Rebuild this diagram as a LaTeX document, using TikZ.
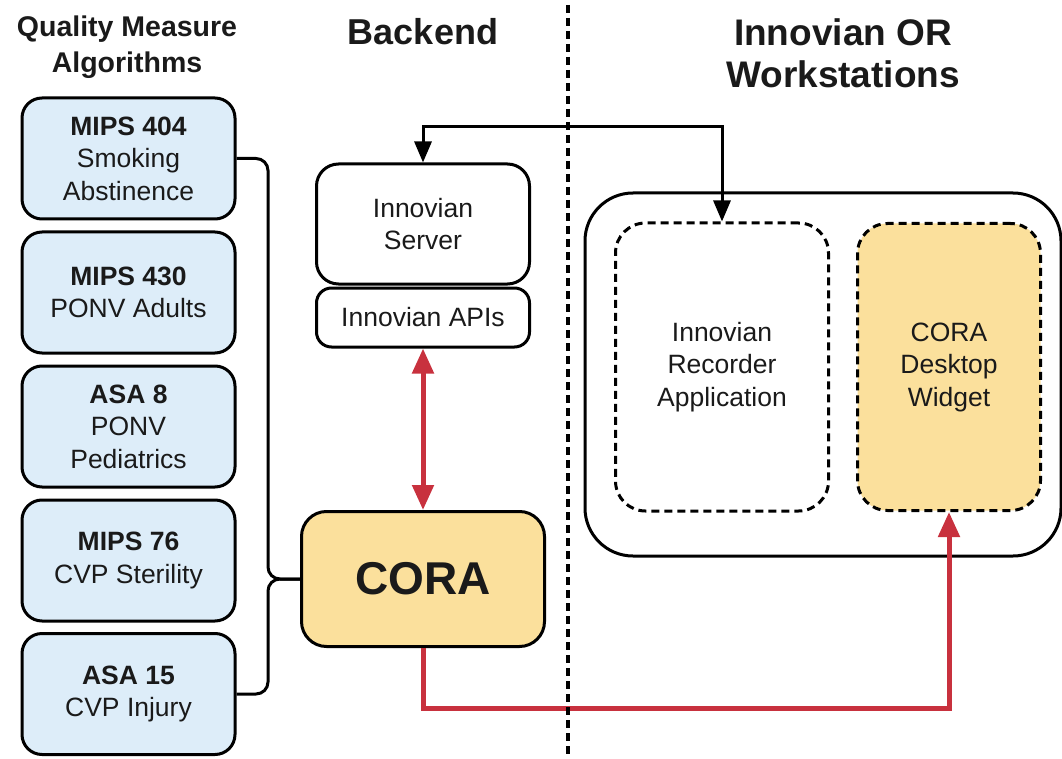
\documentclass[tikz,border=0pt]{standalone}
\usepackage{fontspec}
\setmainfont{Liberation Sans}
\usetikzlibrary{arrows.meta}
\definecolor{qblue}{HTML}{DDEDF9}
\definecolor{corafill}{HTML}{FBE09C}
\definecolor{cred}{HTML}{C8313E}
\definecolor{txt}{HTML}{1A1A1A}
\begin{document}
\begin{tikzpicture}[x=1pt,y=-1pt,
  every node/.style={text=txt},
  boxtext/.style={align=center, inner sep=0pt, font=\fontsize{26.5}{32.5}\selectfont},
  qbox/.style={boxtext, draw=black, line width=3pt, fill=qblue, rounded corners=20pt,
    minimum width=213pt, minimum height=121pt},
  srvbox/.style={boxtext, draw=black, line width=3pt, fill=white, rounded corners=22pt,
    minimum width=213pt},
  corabox/.style={draw=black, line width=3pt, fill=corafill, rounded corners=25pt,
    minimum width=243pt, minimum height=135pt, inner sep=0pt,
    font=\fontsize{46}{50}\selectfont\bfseries},
  outerbox/.style={draw=black, line width=3pt, fill=white, rounded corners=48pt,
    minimum width=476pt, minimum height=363pt, inner sep=0pt},
  dashbox/.style={boxtext, draw=black, line width=3pt, dash pattern=on 8pt off 5pt,
    rounded corners=30pt},
  title/.style={align=center, inner sep=0pt, font=\bfseries},
  conn/.style={draw=black, line width=3pt, rounded corners=12pt},
  blk/.style={draw=black, line width=3pt, {Triangle[length=21pt,width=17pt]}-{Triangle[length=21pt,width=17pt]}},
  redline/.style={draw=cred, line width=5pt},
  divider/.style={draw=black, line width=3.8pt, dash pattern=on 8pt off 5pt}
]
\useasboundingbox (0,0) rectangle (1062,759);

% titles
\node[title, font=\fontsize{28.5}{36}\selectfont\bfseries] (t1) at (127,47) {Quality Measure\\Algorithms};
\node[title, font=\fontsize{36}{42}\selectfont\bfseries] (t2) at (423,32) {Backend};
\node[title, font=\fontsize{37}{42}\selectfont\bfseries] (t3) at (843,53) {Innovian OR\\Workstations};

% quality measure boxes
\node[qbox] (q1) at (128.5,158.5) {\textbf{MIPS 404}\\Smoking\\Abstinence};
\node[qbox] (q2) at (128.5,292.5) {\textbf{MIPS 430}\\PONV Adults};
\node[qbox] (q3) at (128.5,426.5) {\textbf{ASA 8}\\PONV\\Pediatrics};
\node[qbox] (q4) at (128.5,560.5) {\textbf{MIPS 76}\\CVP Sterility};
\node[qbox] (q5) at (128.5,694) {\textbf{ASA 15}\\CVP Injury};

% backend
\node[srvbox, minimum height=120pt] (srv) at (423,224) {Innovian\\Server};
\node[srvbox, minimum height=59pt, rounded corners=15pt] (api) at (423,317.5) {Innovian APIs};
\node[corabox] (cora) at (423,579) {CORA};

% workstations
\node[outerbox] (ws) at (823,374.5) {};
\node[dashbox, minimum width=213pt, minimum height=288pt] (rec) at (722,367) {Innovian\\Recorder\\Application};
\node[dashbox, fill=corafill, minimum width=183pt, minimum height=287pt] (wid) at (949,367) {CORA\\Desktop\\Widget};

% brace connectors
\coordinate (bx) at (268,0);
\draw[conn] (q1.east) -- (q1.east -| bx) |- (cora.west);
\draw[conn] (q5.east) -- (q5.east -| bx) |- (cora.west);

% black arrow server <-> recorder
\coordinate (topy) at (0,127);
\draw[blk] (srv.north) -- (srv.north |- topy) -| (rec.north);

% red arrows
\draw[redline, {Triangle[length=25pt,width=21pt]}-{Triangle[length=25pt,width=21pt]}] (api.south) -- (cora.north);
\coordinate (boty) at (0,708);
\draw[redline, -{Triangle[length=25pt,width=21pt]}] (cora.south) -- (cora.south |- boty) -| (wid.south);

% divider
\coordinate (dtop) at (568,5);
\coordinate (dbot) at (568,759);
\draw[divider] (dtop) -- (dbot);
\end{tikzpicture}
\end{document}
